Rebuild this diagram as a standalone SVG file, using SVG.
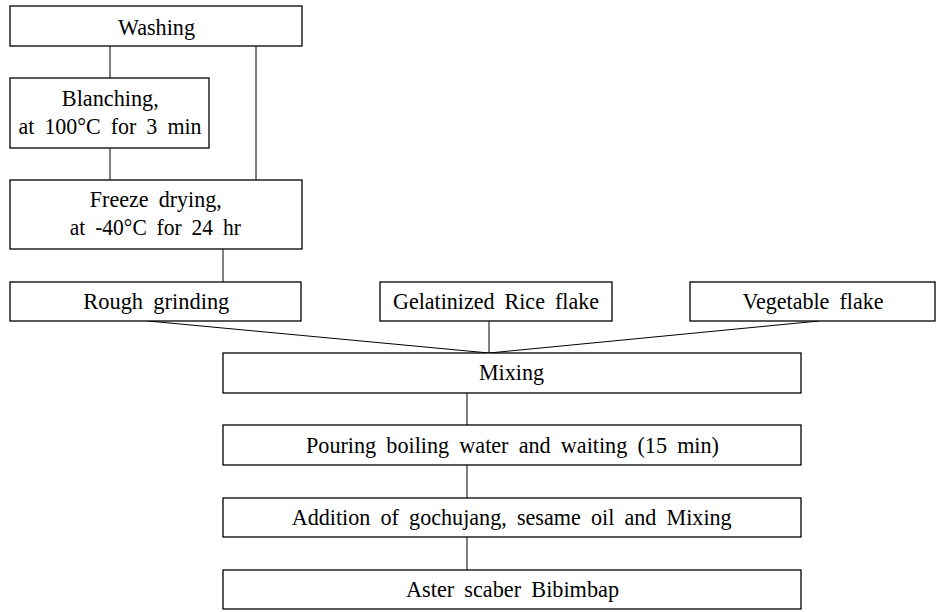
<svg xmlns="http://www.w3.org/2000/svg" width="940" height="612" viewBox="0 0 940 612">
<style>
.box{fill:#fff;stroke:#000;stroke-width:1.3}
.lbl{font-family:"Liberation Serif","Times New Roman",serif;font-size:24px;fill:#000;text-anchor:middle;word-spacing:5px}
.ln{stroke:#000;stroke-width:1;fill:none}
</style>
<rect width="940" height="612" fill="#fff"/>
<g id="connectors">
<line class="ln" x1="110" y1="46" x2="110" y2="78"/>
<line class="ln" x1="110" y1="148" x2="110" y2="180"/>
<line class="ln" x1="256" y1="46" x2="256" y2="180"/>
<line class="ln" x1="223" y1="249" x2="223" y2="282"/>
<line class="ln" x1="148" y1="321" x2="489" y2="353"/>
<line class="ln" x1="489" y1="321" x2="489" y2="353"/>
<line class="ln" x1="819" y1="321" x2="489" y2="353"/>
<line class="ln" x1="467" y1="393" x2="467" y2="425"/>
<line class="ln" x1="467" y1="465" x2="467" y2="498"/>
<line class="ln" x1="467" y1="537" x2="467" y2="570"/>
</g>
<g id="washing">
<rect class="box" x="10" y="6" width="292" height="40"/>
<text class="lbl" x="156.5" y="34.5" textLength="77" lengthAdjust="spacingAndGlyphs">Washing</text>
</g>
<g id="blanching">
<rect class="box" x="10" y="78" width="199" height="70"/>
<text class="lbl" x="110.3" y="106" textLength="97" lengthAdjust="spacingAndGlyphs">Blanching,</text>
<text class="lbl" x="110" y="134" textLength="183" lengthAdjust="spacingAndGlyphs">at 100°C for 3 min</text>
</g>
<g id="freeze-drying">
<rect class="box" x="10" y="180" width="292" height="69"/>
<text class="lbl" x="155.8" y="206.5" textLength="132" lengthAdjust="spacingAndGlyphs">Freeze drying,</text>
<text class="lbl" x="155.3" y="235" textLength="171" lengthAdjust="spacingAndGlyphs">at -40°C for 24 hr</text>
</g>
<g id="rough-grinding">
<rect class="box" x="10" y="282" width="291" height="39"/>
<text class="lbl" x="156.3" y="308.5" textLength="146" lengthAdjust="spacingAndGlyphs">Rough grinding</text>
</g>
<g id="rice-flake">
<rect class="box" x="380" y="282" width="232" height="39"/>
<text class="lbl" x="496" y="308.5" textLength="206" lengthAdjust="spacingAndGlyphs">Gelatinized Rice flake</text>
</g>
<g id="vegetable-flake">
<rect class="box" x="690" y="282" width="245" height="39"/>
<text class="lbl" x="813" y="308.5" textLength="141" lengthAdjust="spacingAndGlyphs">Vegetable flake</text>
</g>
<g id="mixing">
<rect class="box" x="223" y="353" width="578" height="40"/>
<text class="lbl" x="511.5" y="380" textLength="65" lengthAdjust="spacingAndGlyphs">Mixing</text>
</g>
<g id="pouring">
<rect class="box" x="223" y="425" width="578" height="40"/>
<text class="lbl" x="512.5" y="453" textLength="413" lengthAdjust="spacingAndGlyphs">Pouring boiling water and waiting (15 min)</text>
</g>
<g id="addition">
<rect class="box" x="223" y="498" width="578" height="39"/>
<text class="lbl" x="511.7" y="524.5" textLength="440" lengthAdjust="spacingAndGlyphs">Addition of gochujang, sesame oil and Mixing</text>
</g>
<g id="bibimbap">
<rect class="box" x="223" y="570" width="578" height="39"/>
<text class="lbl" x="512.5" y="596.5" textLength="213" lengthAdjust="spacingAndGlyphs">Aster scaber Bibimbap</text>
</g>
</svg>
